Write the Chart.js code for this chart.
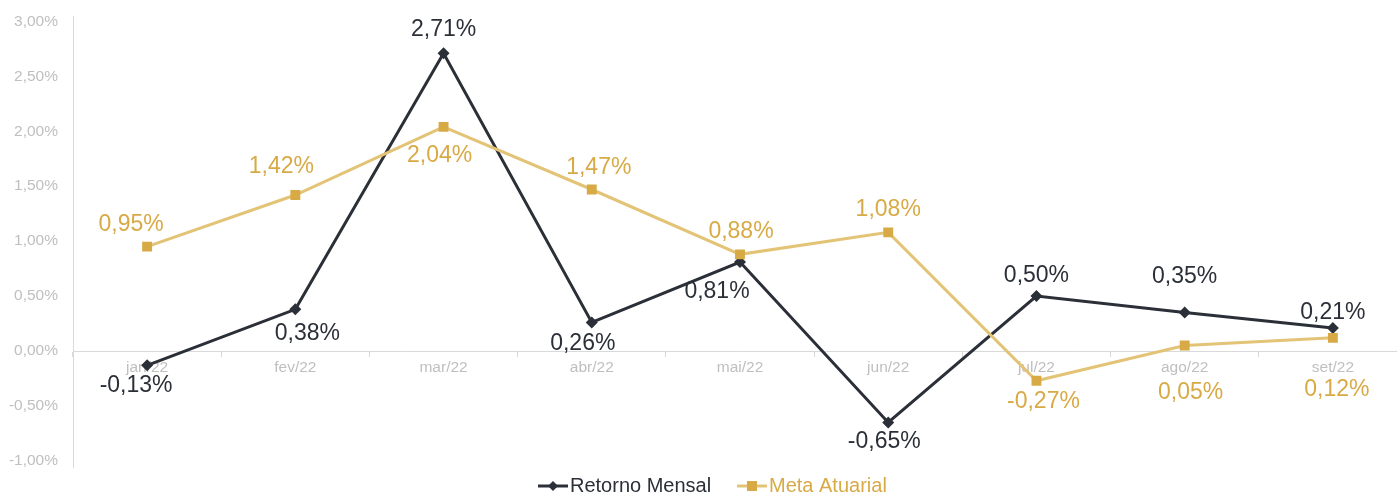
<!DOCTYPE html>
<html>
<head>
<meta charset="utf-8">
<script src="https://cdn.jsdelivr.net/npm/chart.js@4.4.0/dist/chart.umd.min.js"></script>
<style>
  html, body { margin: 0; padding: 0; background: #fff; overflow: hidden; }
  canvas { display: block; }
</style>
</head>
<body>
<canvas id="chart" width="1414" height="495" style="width:1414px;height:495px"></canvas>
<script>
const months = ["jan/22", "fev/22", "mar/22", "abr/22", "mai/22", "jun/22", "jul/22", "ago/22", "set/22"];
const retornoMensal = [-0.13, 0.38, 2.71, 0.26, 0.81, -0.65, 0.50, 0.35, 0.21];
const metaAtuarial = [0.95, 1.42, 2.04, 1.47, 0.88, 1.08, -0.27, 0.05, 0.12];
const yTicks = [-1, -0.5, 0, 0.5, 1, 1.5, 2, 2.5, 3];

// label nudges relative to each point (px)
const retornoLabelOffset = [[-11, 20], [12, 24], [0, -24], [-9, 21], [-23, 30], [-4, 19], [0, -20], [0, -36], [0, -15]];
const metaLabelOffset = [[-16, -22], [-14, -28], [-4, 29], [7, -22], [1, -23], [0, -23], [7, 21], [6, 47], [4, 52]];

const DARK = "#2b2f38";
const GOLD_LINE = "#e3c476";
const GOLD = "#d8aa45";

const fmt = (v) => v.toFixed(2).replace(".", ",") + "%";

const dataLabels = {
  id: "dataLabels",
  afterDatasetsDraw(chart) {
    const ctx = chart.ctx;
    ctx.save();
    ctx.font = "23px 'Liberation Sans', Arial, sans-serif";
    ctx.textAlign = "center";
    ctx.textBaseline = "middle";
    chart.data.datasets.forEach((ds, i) => {
      const meta = chart.getDatasetMeta(i);
      ctx.fillStyle = ds.labelColor;
      meta.data.forEach((pt, j) => {
        const off = ds.labelOffset[j];
        ctx.fillText(fmt(ds.data[j]), pt.x + off[0], pt.y + off[1]);
      });
    });
    ctx.restore();
  }
};

const customLegend = {
  id: "customLegend",
  afterDraw(chart) {
    const ctx = chart.ctx;
    const y = 486;
    ctx.save();
    ctx.font = "20px 'Liberation Sans', Arial, sans-serif";
    ctx.textBaseline = "middle";
    const items = [
      { text: "Retorno Mensal", line: DARK, mark: DARK, color: DARK, shape: "diamond", x: 538 },
      { text: "Meta Atuarial", line: GOLD_LINE, mark: GOLD, color: GOLD, shape: "square", x: 737 }
    ];
    items.forEach((it) => {
      ctx.strokeStyle = it.line;
      ctx.lineWidth = 3;
      ctx.beginPath();
      ctx.moveTo(it.x, y);
      ctx.lineTo(it.x + 30, y);
      ctx.stroke();
      ctx.fillStyle = it.mark;
      const cx = it.x + 15;
      if (it.shape === "diamond") {
        ctx.beginPath();
        ctx.moveTo(cx, y - 5);
        ctx.lineTo(cx + 5, y);
        ctx.lineTo(cx, y + 5);
        ctx.lineTo(cx - 5, y);
        ctx.closePath();
        ctx.fill();
      } else {
        ctx.fillRect(cx - 5, y - 5, 10, 10);
      }
      ctx.fillStyle = it.color;
      ctx.fillText(it.text, it.x + 32, y);
    });
    ctx.restore();
  }
};

new Chart(document.getElementById("chart"), {
  type: "line",
  data: {
    labels: months,
    datasets: [
      {
        label: "Meta Atuarial",
        data: metaAtuarial,
        borderColor: GOLD_LINE,
        backgroundColor: GOLD,
        borderWidth: 3,
        pointStyle: "rect",
        pointRadius: 7,
        pointBorderWidth: 0,
        pointBackgroundColor: GOLD,
        tension: 0,
        order: 0,
        labelColor: GOLD,
        labelOffset: metaLabelOffset
      },
      {
        label: "Retorno Mensal",
        data: retornoMensal,
        borderColor: DARK,
        backgroundColor: DARK,
        borderWidth: 3,
        pointStyle: "rectRot",
        pointRadius: 6,
        pointBorderWidth: 0,
        pointBackgroundColor: DARK,
        tension: 0,
        order: 1,
        labelColor: DARK,
        labelOffset: retornoLabelOffset
      }
    ]
  },
  options: {
    responsive: false,
    animation: false,
    devicePixelRatio: 1,
    layout: { padding: { top: 13, bottom: 28, left: 0, right: 0 } },
    plugins: {
      legend: { display: false },
      tooltip: { enabled: false }
    },
    scales: {
      x: {
        type: "category",
        position: { y: 0 },
        offset: true,
        grid: {
          drawOnChartArea: false,
          drawTicks: true,
          tickLength: 5,
          color: "#d9d9d9",
          offset: true
        },
        border: { color: "#d9d9d9", width: 1 },
        ticks: {
          color: "#bfbfbf",
          font: { family: "'Liberation Sans', Arial, sans-serif", size: 15.5 },
          padding: 2,
          maxRotation: 0,
          autoSkip: false
        }
      },
      y: {
        min: -1.055,
        max: 3.046,
        afterBuildTicks(scale) {
          scale.ticks = yTicks.map((v) => ({ value: v }));
        },
        afterFit(scale) {
          scale.width = 73;
        },
        grid: { display: false },
        border: { color: "#d9d9d9", width: 1 },
        ticks: {
          color: "#bfbfbf",
          font: { family: "'Liberation Sans', Arial, sans-serif", size: 15.5 },
          padding: 7,
          callback: (v) => fmt(v)
        }
      }
    }
  },
  plugins: [dataLabels, customLegend]
});
</script>
</body>
</html>
